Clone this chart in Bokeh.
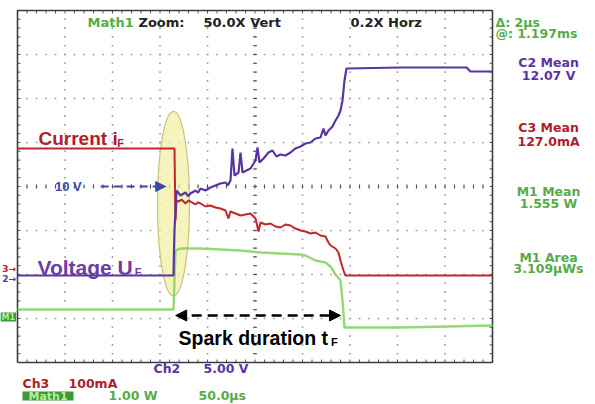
from bokeh.plotting import figure
from bokeh.models import Arrow, NormalHead
from bokeh.core.properties import value
from bokeh.embed import file_html
from bokeh.resources import INLINE
import numpy as np

# ---- data: time in screen divisions, signal in screen divisions ----
current_t = [0, 3.284, 3.305, 3.326, 3.347, 3.389, 3.46, 3.537, 3.6, 3.642, 3.7, 3.747, 3.8, 3.853,
             3.958, 4.063, 4.168, 4.274, 4.379, 4.442, 4.484, 4.589, 4.695, 4.8, 4.905, 5.011,
             5.074, 5.116, 5.221, 5.326, 5.432, 5.537, 5.642, 5.747, 5.853, 5.958, 6.063, 6.168,
             6.274, 6.379, 6.484, 6.547, 6.589, 6.695, 6.758, 6.8, 6.863, 6.905, 8.063, 10.0]
current_v = [4.864, 4.864, 4.864, 3.227, 3.682, 3.659, 3.70, 3.614, 3.68, 3.659, 3.62, 3.591, 3.64, 3.614,
             3.545, 3.568, 3.523, 3.50, 3.455, 3.273, 3.432, 3.386, 3.341, 3.364, 3.386, 3.273,
             2.977, 3.182, 3.136, 3.159, 3.091, 3.068, 3.136, 3.114, 3.045, 3.0, 2.977, 2.932,
             2.955, 2.886, 2.864, 2.727, 2.659, 2.591, 2.5, 2.318, 2.091, 1.977, 1.977, 1.977]

voltage_t = [0, 3.284, 3.305, 3.347, 3.432, 3.537, 3.59, 3.642, 3.747, 3.8, 3.853, 3.958, 4.063, 4.168,
             4.274, 4.379, 4.43, 4.484, 4.526, 4.568, 4.653, 4.695, 4.737, 4.821, 4.905, 5.011, 5.053,
             5.095, 5.179, 5.284, 5.368, 5.453, 5.537, 5.642, 5.747, 5.853, 5.958, 6.063, 6.168,
             6.274, 6.379, 6.442, 6.484, 6.547, 6.632, 6.695, 6.758, 6.8, 6.842, 6.884, 6.926,
             8.063, 9.453, 9.537, 10.0]
voltage_v = [1.977, 1.977, 3.0, 3.909, 3.795, 3.864, 3.78, 3.841, 3.909, 3.86, 3.955, 3.909, 3.977, 4.023,
             4.068, 4.091, 4.03, 4.136, 4.864, 4.25, 4.318, 4.773, 4.318, 4.364, 4.409, 4.591, 4.886,
             4.545, 4.636, 4.773, 4.818, 4.682, 4.727, 4.705, 4.773, 4.864, 4.909, 4.977, 5.0,
             5.091, 5.114, 5.318, 5.159, 5.273, 5.364, 5.5, 5.614, 5.727, 5.955, 6.409, 6.682,
             6.705, 6.705, 6.614, 6.614]

power_t = [0, 3.284, 3.326, 3.432, 3.853, 4.274, 4.695, 5.116, 5.537, 5.958, 6.063, 6.274, 6.484,
           6.589, 6.695, 6.8, 6.842, 6.884, 8.063, 10.0]
power_v = [1.205, 1.205, 2.545, 2.591, 2.591, 2.568, 2.545, 2.5, 2.477, 2.455, 2.432, 2.318, 2.273,
           2.182, 2.0, 1.864, 1.409, 0.795, 0.795, 0.841]

top_labels = ["Math1", "Zoom:", "50.0X Vert", "0.2X Horz"]
meas_titles = ["C2 Mean", "C3 Mean", "M1 Mean", "M1 Area"]
meas_values = ["12.07 V", "127.0mA", "1.555 W", "3.109µWs"]

RED = "#c0262c"
PURPLE = "#5a34a2"
GREEN = "#8ad468"
TGREEN = "#56ab48"
BOX = "#3c3c3c"
MONO = value("DejaVu Sans")
ARIAL = value("Liberation Sans")

p = figure(width=595, height=404, x_range=(-0.357895, 12.168421), y_range=(-0.954545, 8.227273),
           output_backend="svg", toolbar_location=None, min_border=0,
           x_axis_location=None, y_axis_location=None)
p.grid.visible = False
p.outline_line_color = None
p.background_fill_color = "white"
p.border_fill_color = "white"

# ---- graticule ----
gx, gy = [], []
for xv in range(1, 10):
    for yv in np.arange(0.2, 8.0, 0.2):
        gx.append(xv); gy.append(yv)
for yv in range(1, 8):
    for xv in np.arange(0.2, 10.0, 0.2):
        gx.append(xv); gy.append(yv)
p.scatter(gx, gy, marker="square", size=1.6, color="#9a9a9a", line_color=None)

tx0, ty0, tx1, ty1 = [], [], [], []
dx, dy = 3 / 47.5, 3 / 44
for xv in np.arange(0.2, 10.0, 0.2):
    tx0 += [xv, xv, xv]; tx1 += [xv, xv, xv]
    ty0 += [8, 0, 4 - dy * 0.7]; ty1 += [8 - dy, dy, 4 + dy * 0.7]
for yv in np.arange(0.2, 8.0, 0.2):
    ty0 += [yv, yv, yv]; ty1 += [yv, yv, yv]
    tx0 += [0, 10, 5 - dx * 0.7]; tx1 += [dx, 10 - dx, 5 + dx * 0.7]
p.segment(tx0, ty0, tx1, ty1, line_color="#555555", line_width=1)
p.line([0, 10, 10, 0, 0], [0, 0, 8, 8, 0], line_color=BOX, line_width=1.6)

# ---- highlight ellipse ----
p.ellipse(x=[3.284], y=[3.61], width=[0.674], height=[4.2], fill_color="#f3efa6",
          fill_alpha=0.75, line_color="#c9c27a", line_width=1.2)

# ---- traces ----
p.line(power_t, power_v, line_color=GREEN, line_width=2.4, line_alpha=0.9)
p.line(current_t, current_v, line_color=RED, line_width=2.0)
p.line(voltage_t, voltage_v, line_color=PURPLE, line_width=2.2)

# ---- annotations ----
p.add_layout(Arrow(end=NormalHead(size=10, fill_color="#3a48a8", line_color="#3a48a8"),
                   x_start=1.75, y_start=4.0, x_end=3.12, y_end=4.0,
                   line_color="#3a48a8", line_width=1.8, line_dash="8 5"))
p.text([1.07], [4.0], text=["10 V"], text_font=ARIAL, text_font_style="bold",
       text_font_size="13px", text_color="#3a48a8", text_align="center", text_baseline="middle")

p.add_layout(Arrow(start=NormalHead(size=11, fill_color="black", line_color="black"),
                   end=NormalHead(size=11, fill_color="black", line_color="black"),
                   x_start=3.33, y_start=1.068, x_end=6.8, y_end=1.068,
                   line_color="black", line_width=2.4, line_dash="10 6"))
p.text([3.39], [0.568], text=["Spark duration t"], text_font=ARIAL, text_font_style="bold",
       text_font_size="19.5px", text_color="black", text_align="left", text_baseline="alphabetic")
p.text([6.6], [0.47], text=["F"], text_font=ARIAL, text_font_style="bold",
       text_font_size="11px", text_color="black", text_align="left", text_baseline="alphabetic")

p.text([0.442], [5.09], text=["Current i"], text_font=ARIAL, text_font_style="bold",
       text_font_size="19px", text_color="#b01e2a", text_align="left", text_baseline="alphabetic")
p.text([2.1], [4.99], text=["F"], text_font=ARIAL, text_font_style="bold",
       text_font_size="11px", text_color="#b01e2a", text_align="left", text_baseline="alphabetic")
p.text([0.421], [2.159], text=["Voltage U"], text_font=ARIAL, text_font_style="bold",
       text_font_size="21px", text_color="#6a3ea8", text_align="left", text_baseline="alphabetic")
p.text([2.47], [2.06], text=["F"], text_font=ARIAL, text_font_style="bold",
       text_font_size="11px", text_color="#6a3ea8", text_align="left", text_baseline="alphabetic")

# ---- scope readouts ----
p.text([1.474, 2.547, 3.916, 7.011], [7.716] * 4, text=top_labels, text_font=MONO,
       text_font_style="bold", text_font_size="13px",
       text_color=[TGREEN, "#222222", "#222222", "#222222"], text_baseline="middle")
p.text([10.063, 10.063], [7.727, 7.477], text=["Δ: 2µs", "@: 1.197ms"], text_font=MONO,
       text_font_style="bold", text_font_size="12.5px", text_color=TGREEN, text_baseline="middle")
meas_colors = [PURPLE, "#b0202a", TGREEN, TGREEN]
p.text([11.18] * 4, [6.818, 5.341, 3.886, 2.386], text=meas_titles, text_font=MONO,
       text_font_style="bold", text_font_size="12.5px", text_color=meas_colors,
       text_align="center", text_baseline="middle")
p.text([11.18] * 4, [6.523, 5.023, 3.614, 2.136], text=meas_values, text_font=MONO,
       text_font_style="bold", text_font_size="12.5px", text_color=meas_colors,
       text_align="center", text_baseline="middle")

p.text([2.863, 3.916], [-0.136, -0.136], text=["Ch2", "5.00 V"], text_font=MONO,
       text_font_style="bold", text_font_size="12.5px", text_color=PURPLE, text_baseline="middle")
p.text([0.105, 1.074], [-0.477, -0.477], text=["Ch3", "100mA"], text_font=MONO,
       text_font_style="bold", text_font_size="12.5px", text_color="#b0202a", text_baseline="middle")
p.quad(left=[0.105], right=[1.179], top=[-0.66], bottom=[-0.866], fill_color="#3a9a3a", line_color=None)
p.text([0.642], [-0.763], text=["Math1"], text_font=MONO, text_font_style="bold",
       text_font_size="11px", text_color="#b6ee9a", text_align="center", text_baseline="middle")
p.text([1.916, 3.811], [-0.75, -0.75], text=["1.00 W", "50.0µs"], text_font=MONO,
       text_font_style="bold", text_font_size="12.5px", text_color=TGREEN, text_baseline="middle")

# ---- channel markers at left edge ----
p.text([-0.03, -0.03], [2.12, 1.89], text=["3→", "2→"], text_font=MONO, text_font_style="bold",
       text_font_size="9px", text_color=["#c0262c", PURPLE], text_align="right", text_baseline="middle")
p.quad(left=[-0.36], right=[-0.03], top=[1.136], bottom=[0.93], fill_color="#3a9a3a", line_color=None)
p.text([-0.195], [1.033], text=["M1"], text_font=MONO, text_font_style="bold",
       text_font_size="8px", text_color="#b6ee9a", text_align="center", text_baseline="middle")

open("out.html", "w").write(file_html(p, INLINE))
